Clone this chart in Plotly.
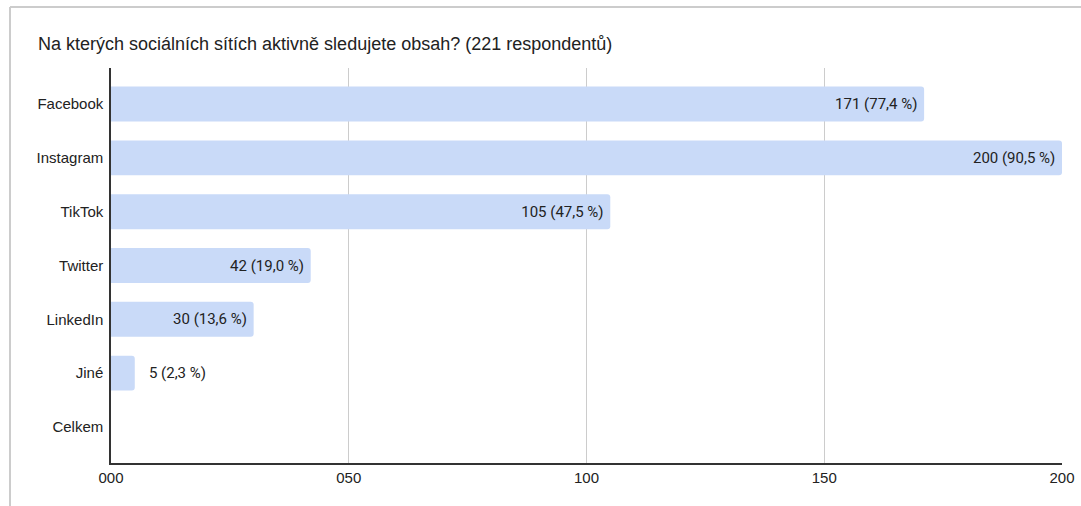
import plotly.graph_objects as go

categories = ["Facebook", "Instagram", "TikTok", "Twitter", "LinkedIn", "Jiné", "Celkem"]
values = [171, 200, 105, 42, 30, 5, None]
percents = ["77,4", "90,5", "47,5", "19,0", "13,6", "2,3", None]
tick_vals = [0, 50, 100, 150, 200]
tick_text = ["000", "050", "100", "150", "200"]
title = "Na kterých sociálních sítích aktivně sledujete obsah? (221 respondentů)"

NB = "\u00a0"
labels, positions = [], []
for v, p in zip(values, percents):
    if v is None:
        labels.append("")
        positions.append("none")
    elif v >= 20:
        labels.append(f"{v} ({p} %){NB}")
        positions.append("inside")
    else:
        labels.append(f"{NB*3}{v} ({p} %)")
        positions.append("outside")

fig = go.Figure(go.Bar(
    x=values, y=categories, orientation="h",
    marker=dict(color="#c9daf8", line=dict(width=0)),
    width=0.65,
    text=labels, textposition=positions, insidetextanchor="end",
    textfont=dict(family="Roboto", size=15, color="#222222"),
    cliponaxis=False,
))

W, H = 1081, 506
L, R, T, B = 111, 19, 68, 43
pw, ph = W - L - R, H - T - B

def px_x(p):
    return (p - L) / pw

def px_y(p):
    return (H - B - p) / ph

fig.update_layout(
    width=W, height=H,
    margin=dict(l=L, r=R, t=T, b=B, autoexpand=False),
    paper_bgcolor="white", plot_bgcolor="white",
    barcornerradius=3,
    showlegend=False,
    font=dict(family="Liberation Sans, Arial", size=15, color="#222222"),
    uniformtext=dict(minsize=15, mode="show"),
    xaxis=dict(range=[0, 200], tickvals=tick_vals, ticktext=tick_text,
               showgrid=True, gridcolor="#cccccc", gridwidth=1,
               showline=True, linecolor="#333333", linewidth=1.5,
               zeroline=False, ticks="", fixedrange=True, automargin=False,
               tickfont=dict(size=15, color="#222222")),
    yaxis=dict(autorange=False, range=[6.67, -0.67], categoryorder="array",
               categoryarray=categories, showgrid=False, automargin=False,
               showline=True, linecolor="#333333", linewidth=1.5,
               ticks="", ticklabelstandoff=3,
               tickfont=dict(size=15, color="#222222")),
    annotations=[dict(text=title, xref="paper", yref="paper",
                      x=px_x(36), y=px_y(44), xanchor="left", yanchor="middle",
                      showarrow=False,
                      font=dict(family="Liberation Sans, Arial", size=18, color="#222222"))],
    shapes=[
        dict(type="line", xref="paper", yref="paper", x0=px_x(10), x1=px_x(1081),
             y0=px_y(7), y1=px_y(7), line=dict(color="#cccccc", width=2)),
        dict(type="line", xref="paper", yref="paper", x0=px_x(10), x1=px_x(10),
             y0=px_y(7), y1=px_y(506), line=dict(color="#cccccc", width=2)),
    ],
)

fig.write_html("out.html")
